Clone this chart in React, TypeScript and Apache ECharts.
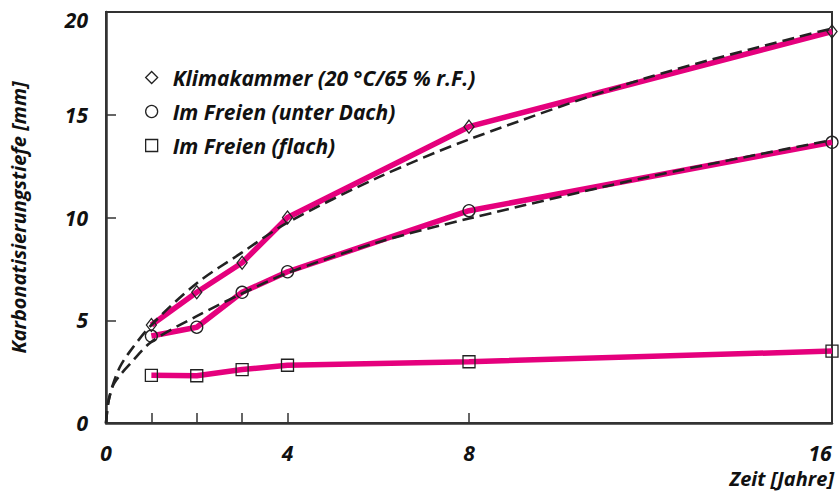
import React, { useEffect, useRef } from "react";
import * as echarts from "echarts";

const years = [1, 2, 3, 4, 8, 16];
const klimakammer = [4.77, 6.36, 7.8, 10.0, 14.42, 19.05];
const unterDach = [4.23, 4.66, 6.36, 7.36, 10.33, 13.66];
const flach = [2.32, 2.3, 2.6, 2.81, 2.98, 3.5];

const fitT = [0, 0.05, 0.15, 0.3, 0.5, 1, 2, 3, 4, 6, 8, 12, 16];
const fitUpper = [0, 1.0, 1.85, 2.7, 3.4, 4.77, 6.8, 8.3, 9.75, 11.95, 13.8, 16.85, 19.2];
const fitLower = [0, 1.0, 1.8, 2.3, 2.8, 3.95, 5.2, 6.3, 7.3, 8.8, 9.95, 12.0, 13.77];

const xTicks = [1, 2, 3, 4, 8, 16];
const xLabels = [0, 4, 8, 16];
const seriesNames = [
  "Klimakammer (20 °C/65 % r.F.)",
  "Im Freien (unter Dach)",
  "Im Freien (flach)",
];
const symbols = ["diamond", "circle", "rect"];

const FONT = "'Open Sans', 'Noto Sans', sans-serif";
const PINK = "#e5007d";
const INK = "#222222";

export default function App() {
  const ref = useRef<HTMLDivElement>(null);
  useEffect(() => {
    const chart = echarts.init(ref.current!, null, { renderer: "svg" });
    const pair = (xs: number[], ys: number[]) => xs.map((x, i) => [x, ys[i]]);
    const dataSets = [klimakammer, unterDach, flach];
    const markerStyle = {
      color: "rgba(0,0,0,0)",
      borderColor: INK,
      borderWidth: 1.3,
    };
    const lineSeries = dataSets.map((d, i) => ({
      name: seriesNames[i],
      type: "line",
      data: pair(years, d),
      symbol: symbols[i],
      symbolSize: i === 0 ? [10, 13] : 12,
      showSymbol: true,
      itemStyle: markerStyle,
      lineStyle: { color: PINK, width: 5.5 },
      z: 3,
    }));
    const fitSeries = [fitUpper, fitLower].map((d) => ({
      type: "line",
      data: pair(fitT, d),
      smooth: 0.3,
      showSymbol: false,
      symbol: "none",
      lineStyle: { color: INK, width: 2.6, type: [12, 6] },
      z: 4,
      silent: true,
    }));
    const label = {
      fontFamily: FONT,
      fontWeight: "bold",
      fontStyle: "italic",
      color: "#111",
    };

    chart.setOption({
      animation: false,
      backgroundColor: "#ffffff",
      grid: {
        left: 100,
        right: 7,
        top: 12,
        bottom: 72,
        show: true,
        borderColor: "#333",
        borderWidth: 2,
        backgroundColor: "transparent",
      },
      legend: {
        orient: "vertical",
        left: 140,
        top: 62,
        itemGap: 13,
        itemWidth: 12,
        itemHeight: 12,
        data: seriesNames.map((n, i) => ({
          name: n,
          icon: symbols[i],
          itemStyle: markerStyle,
        })),
        textStyle: { ...label, fontSize: 21, padding: [0, 0, 0, 10] },
      },
      xAxis: {
        type: "value",
        min: 0,
        max: 16,
        interval: 1,
        splitLine: { show: false },
        axisLine: { lineStyle: { color: "#333", width: 2.5 } },
        axisTick: {
          inside: true,
          length: 10,
          customValues: xTicks,
          lineStyle: { color: "#333", width: 1.5 },
        },
        axisLabel: {
          ...label,
          customValues: xLabels,
          margin: 19,
          fontSize: 21,
          formatter: (v: number) => (v === 16 ? "{end|16}" : String(v)),
          rich: { end: { ...label, fontSize: 21, padding: [0, 24, 0, 0] } },
        },
      },
      yAxis: {
        type: "value",
        min: 0,
        max: 20,
        interval: 5,
        splitLine: { show: false },
        axisLine: { show: true, lineStyle: { color: "#333", width: 2.5 } },
        axisTick: {
          show: true,
          inside: true,
          length: 10,
          lineStyle: { color: "#333", width: 1.5 },
        },
        axisLabel: {
          ...label,
          margin: 18,
          fontSize: 21,
          formatter: (v: number) => (v === 20 ? "{top|20}" : String(v)),
          rich: { top: { ...label, fontSize: 21, padding: [16, 0, 0, 0] } },
        },
        name: "Karbonatisierungstiefe [mm]",
        nameLocation: "middle",
        nameRotate: 90,
        nameGap: 78,
        nameTextStyle: { ...label, fontSize: 20 },
      },
      graphic: [
        {
          type: "text",
          right: 5,
          top: 468,
          style: {
            text: "Zeit [Jahre]",
            fontFamily: FONT,
            fontWeight: "bold",
            fontStyle: "italic",
            fontSize: 20,
            fill: "#111",
          },
        },
      ],
      series: [...lineSeries, ...fitSeries],
    });
    return () => chart.dispose();
  }, []);
  return (
    <div
      ref={ref}
      style={{ position: "fixed", left: 0, top: 0, width: 839, height: 495 }}
    />
  );
}
